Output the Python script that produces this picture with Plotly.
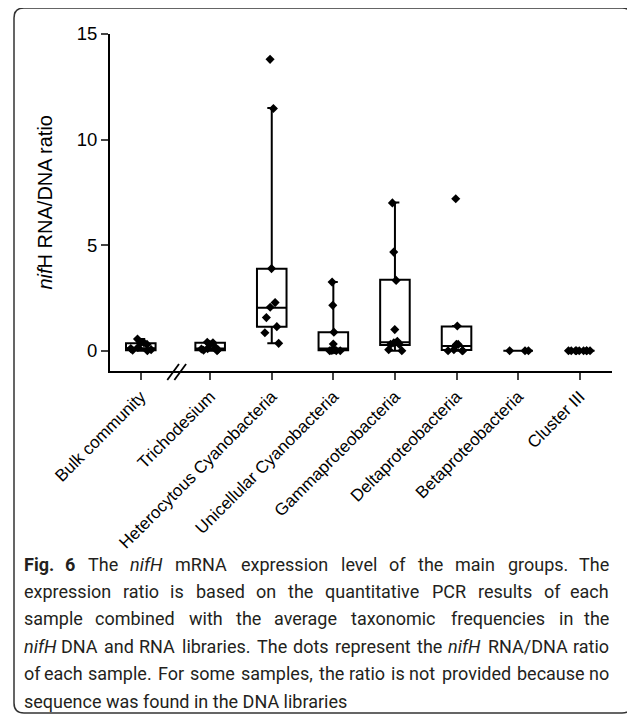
import re
import plotly.graph_objects as go

# ---------------- data ----------------
categories = ["Bulk community", "Trichodesium", "Heterocytous Cyanobacteria",
              "Unicellular Cyanobacteria", "Gammaproteobacteria",
              "Deltaproteobacteria", "Betaproteobacteria", "Cluster III"]

points_bulk = [0.0, 0.02, 0.05, 0.1, 0.15, 0.3, 0.35, 0.38, 0.55]
points_tricho = [0.0, 0.02, 0.05, 0.08, 0.1, 0.15, 0.3, 0.38, 0.4]
points_hetero = [13.8, 11.47, 3.89, 2.28, 2.06, 1.57, 1.14, 0.85, 0.35]
points_unicell = [3.25, 2.15, 0.88, 0.32, 0.05, 0.02, 0.01, 0.0, 0.0, 0.0]
points_gamma = [7.0, 4.67, 3.33, 1.0, 0.45, 0.38, 0.3, 0.3, 0.05, 0.0]
points_delta = [7.2, 1.17, 0.3, 0.3, 0.25, 0.05, 0.0, 0.0, 0.0]
points_beta = [0.0, 0.0, 0.0]
points_cluster3 = [0.0, 0.0, 0.0, 0.0, 0.0, 0.0, 0.0, 0.0, 0.0]

box_q1 = [0.02, 0.02, 1.14, 0.02, 0.27, 0.03, 0.0, 0.0]
box_median = [0.12, 0.1, 2.03, 0.1, 0.4, 0.22, 0.0, 0.0]
box_q3 = [0.35, 0.38, 3.88, 0.88, 3.36, 1.15, 0.0, 0.0]
box_low = [0.0, 0.0, 0.35, 0.0, 0.0, 0.0, 0.0, 0.0]
box_high = [0.55, 0.4, 11.5, 3.25, 7.02, 1.17, 0.0, 0.0]

yticks = [0, 5, 10, 15]

caption_lines = [
    "<b>Fig.</b> <b>6</b> The <i>nifH</i> mRNA expression level of the main groups. The",
    "expression ratio is based on the quantitative PCR results of each",
    "sample combined with the average taxonomic frequencies in the",
    "<i>nifH</i> DNA and RNA libraries. The dots represent the <i>nifH</i> RNA/DNA ratio",
    "of each sample. For some samples, the ratio is not provided because no",
    "sequence was found in the DNA libraries",
]

# ---------------- layout helpers ----------------
# the page body has an 8 px margin, so the figure is drawn 8 px in/down
OFF = 8
W, H = 635 - OFF, 715 - OFF
L, R, T, B = 110 - OFF, 23, 34 - OFF, 344
PW, PH = W - L - R, H - T - B


def pxx(px):
    return (px - OFF - L) / PW


def pxy(py):
    return (H - B - (py - OFF)) / PH


BREAK_GAP = 0.126
positions = [0.0] + [1 + BREAK_GAP + k for k in range(len(categories) - 1)]
all_points = [points_bulk, points_tricho, points_hetero, points_unicell,
              points_gamma, points_delta, points_beta, points_cluster3]

ARIAL = "Liberation Sans, Arial, sans-serif"
CAP_FONT = "Roboto, sans-serif"
CAP_SIZE = 18

fig = go.Figure()

# boxes (precomputed statistics)
fig.add_trace(go.Box(
    x=positions, q1=box_q1, median=box_median, q3=box_q3,
    lowerfence=box_low, upperfence=box_high,
    width=0.48, whiskerwidth=0.3, boxpoints=False,
    fillcolor="rgba(255,255,255,0)",
    line=dict(color="black", width=2),
    showlegend=False, hoverinfo="skip",
))

# sample dots (jittered by the library)
for pos, vals in zip(positions, all_points):
    fig.add_trace(go.Box(
        x=[pos] * len(vals), y=vals,
        boxpoints="all", jitter=0.9, pointpos=0, width=0.48,
        fillcolor="rgba(0,0,0,0)",
        line=dict(color="rgba(0,0,0,0)", width=0),
        marker=dict(symbol="diamond", size=7, color="black"),
        showlegend=False,
    ))

shapes = []
# axis break marks
for x0 in (0.43, 0.545):
    shapes.append(dict(type="line", xref="x", yref="paper",
                       x0=x0, x1=x0 + 0.19, y0=pxy(380), y1=pxy(364),
                       line=dict(color="black", width=1.8)))

# rounded frame
x0, y0, x1, y1, r = pxx(14), pxy(8), pxx(632), pxy(713), 10
rx, ry = r / PW, r / PH
path = (f"M {x0 + rx},{y0} L {x1 - rx},{y0} Q {x1},{y0} {x1},{y0 - ry} "
        f"L {x1},{y1 + ry} Q {x1},{y1} {x1 - rx},{y1} "
        f"L {x0 + rx},{y1} Q {x0},{y1} {x0},{y1 + ry} "
        f"L {x0},{y0 - ry} Q {x0},{y0} {x0 + rx},{y0} Z")
shapes.append(dict(type="path", xref="paper", yref="paper", path=path,
                   line=dict(color="#333333", width=1.5)))

annotations = []
annotations.append(dict(
    text="<i>nif</i>H RNA/DNA ratio", textangle=-90,
    xref="paper", yref="paper", x=pxx(44), y=0.5,
    xanchor="center", yanchor="middle", showarrow=False,
    font=dict(family=ARIAL, size=20, color="black"),
))

# approximate Roboto advance widths (em) used to justify caption lines
CW = dict(zip("abcdefghijklmnopqrstuvwxyz",
              [.544, .561, .523, .564, .529, .347, .561, .551, .243, .239, .507, .243, .876,
               .552, .570, .561, .568, .338, .516, .327, .551, .484, .751, .496, .473, .496]))
CW.update(dict(zip("ABCDEFGHIJKLMNOPQRSTUVWXYZ",
                   [.652, .622, .651, .656, .568, .553, .682, .713, .272, .552, .627, .539, .873,
                    .713, .688, .631, .688, .616, .593, .597, .649, .636, .887, .627, .601, .599])))
CW.update({".": .263, ",": .196, "/": .412, "-": .276})


def word_width(w):
    plain = re.sub(r"<[^>]+>", "", w)
    k = 1.06 if "<b>" in w else 1.0
    return sum(CW.get(c, .561) for c in plain) * CAP_SIZE * k * 1.03


X_LEFT, X_RIGHT = 22, 611
cap_y = [564 + 27.4 * i for i in range(len(caption_lines))]
for li, (txt, cy) in enumerate(zip(caption_lines, cap_y)):
    common = dict(xref="paper", yref="paper", y=pxy(cy), yanchor="middle",
                  showarrow=False, font=dict(family=CAP_FONT, size=CAP_SIZE, color="#231f20"))
    if li == len(caption_lines) - 1:
        annotations.append(dict(text=txt, x=pxx(X_LEFT), xanchor="left", **common))
        continue
    words = txt.split(" ")
    widths = [word_width(w) for w in words]
    gap = (X_RIGHT - X_LEFT - sum(widths)) / (len(words) - 1)
    cur = X_LEFT
    for i, (w, ww) in enumerate(zip(words, widths)):
        if i == 0:
            annotations.append(dict(text=w, x=pxx(X_LEFT), xanchor="left", **common))
        elif i == len(words) - 1:
            annotations.append(dict(text=w, x=pxx(X_RIGHT), xanchor="right", **common))
        else:
            annotations.append(dict(text=w, x=pxx(cur + ww / 2), xanchor="center", **common))
        cur += ww + gap

fig.update_layout(
    width=W, height=H,
    margin=dict(l=L, r=R, t=T, b=B, autoexpand=False),
    paper_bgcolor="white", plot_bgcolor="white",
    boxmode="overlay",
    shapes=shapes, annotations=annotations,
    xaxis=dict(
        range=[-0.5, 7.65], tickvals=positions, ticktext=categories,
        tickangle=-45, ticks="outside", ticklen=7, tickwidth=2,
        showline=True, linecolor="black", linewidth=2,
        showgrid=False, zeroline=False,
        tickfont=dict(family=ARIAL, size=17, color="black"),
    ),
    yaxis=dict(
        range=[-0.96, 15], tickvals=yticks,
        ticks="outside", ticklen=7, tickwidth=2,
        showline=True, linecolor="black", linewidth=2,
        showgrid=False, zeroline=False,
        tickfont=dict(family=ARIAL, size=18.5, color="black"),
    ),
)

fig.write_html("out.html")
